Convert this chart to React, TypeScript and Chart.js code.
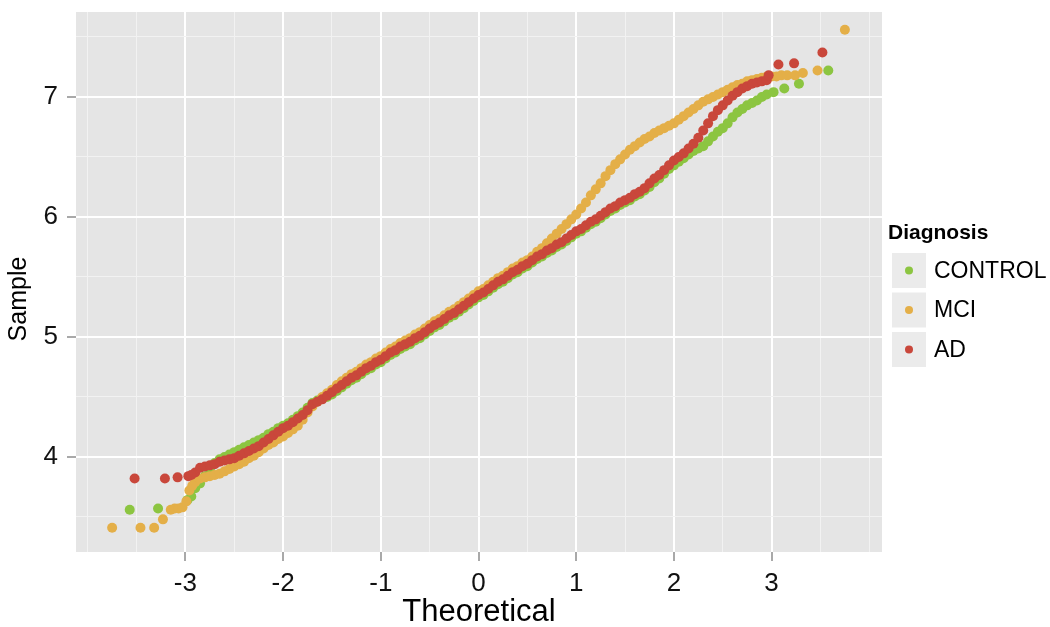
import React, { useEffect, useRef } from "react";
import { Chart, registerables } from "chart.js";

Chart.register(...registerables);

// Theoretical quantiles of the dense central part (shared by the three groups)
const theoretical = [
  -2.9, -2.85, -2.8, -2.75, -2.7, -2.65, -2.6, -2.55, -2.5, -2.45,
  -2.4, -2.35, -2.3, -2.25, -2.2, -2.15, -2.1, -2.05, -2.0, -1.95,
  -1.9, -1.85, -1.8, -1.75, -1.7, -1.65, -1.6, -1.55, -1.5, -1.45,
  -1.4, -1.35, -1.3, -1.25, -1.2, -1.15, -1.1, -1.05, -1.0, -0.95,
  -0.9, -0.85, -0.8, -0.75, -0.7, -0.65, -0.6, -0.55, -0.5, -0.45,
  -0.4, -0.35, -0.3, -0.25, -0.2, -0.15, -0.1, -0.05, 0.0, 0.05,
  0.1, 0.15, 0.2, 0.25, 0.3, 0.35, 0.4, 0.45, 0.5, 0.55,
  0.6, 0.65, 0.7, 0.75, 0.8, 0.85, 0.9, 0.95, 1.0, 1.05,
  1.1, 1.15, 1.2, 1.25, 1.3, 1.35, 1.4, 1.45, 1.5, 1.55,
  1.6, 1.65, 1.7, 1.75, 1.8, 1.85, 1.9, 1.95, 2.0, 2.05,
  2.1, 2.15, 2.2, 2.25, 2.3, 2.35, 2.4, 2.45, 2.5, 2.55,
  2.6, 2.65, 2.7, 2.75, 2.8, 2.85, 2.9,
];

const controlSample = [
  3.74, 3.78, 3.84, 3.9, 3.95, 3.98, 4.0, 4.02, 4.04, 4.06,
  4.08, 4.1, 4.12, 4.14, 4.16, 4.19, 4.21, 4.24, 4.26, 4.28,
  4.31, 4.34, 4.37, 4.41, 4.45, 4.47, 4.49, 4.5, 4.52, 4.55,
  4.58, 4.61, 4.64, 4.66, 4.69, 4.72, 4.74, 4.77, 4.79, 4.82,
  4.85, 4.87, 4.9, 4.92, 4.94, 4.97, 4.99, 5.02, 5.05, 5.08,
  5.1, 5.13, 5.16, 5.18, 5.21, 5.24, 5.27, 5.3, 5.33, 5.35,
  5.38, 5.41, 5.44, 5.46, 5.49, 5.52, 5.54, 5.57, 5.59, 5.62,
  5.65, 5.67, 5.7, 5.72, 5.75, 5.77, 5.8, 5.83, 5.86, 5.88,
  5.91, 5.94, 5.96, 5.99, 6.02, 6.05, 6.07, 6.1, 6.12, 6.14,
  6.17, 6.19, 6.22, 6.25, 6.29, 6.32, 6.36, 6.4, 6.43, 6.46,
  6.49, 6.52, 6.55, 6.57, 6.59, 6.63, 6.67, 6.71, 6.74, 6.78,
  6.83, 6.87, 6.9, 6.93, 6.95, 6.97, 7.0,
];

const mciSample = [
  3.79, 3.82, 3.83, 3.84, 3.85, 3.86, 3.88, 3.9, 3.92, 3.94,
  3.96, 3.99, 4.01, 4.04, 4.07, 4.1, 4.12, 4.15, 4.17, 4.2,
  4.23, 4.26, 4.31, 4.37, 4.42, 4.46, 4.5, 4.53, 4.56, 4.6,
  4.63, 4.66, 4.69, 4.71, 4.74, 4.77, 4.79, 4.82, 4.84, 4.87,
  4.9, 4.92, 4.95, 4.97, 4.99, 5.02, 5.04, 5.07, 5.1, 5.13,
  5.15, 5.18, 5.21, 5.23, 5.26, 5.29, 5.32, 5.35, 5.38, 5.4,
  5.43, 5.46, 5.49, 5.51, 5.54, 5.57, 5.59, 5.62, 5.64, 5.67,
  5.71, 5.74, 5.78, 5.82, 5.86, 5.9, 5.94, 5.98, 6.02, 6.07,
  6.12, 6.18, 6.23, 6.28, 6.34, 6.39, 6.44, 6.48, 6.52, 6.56,
  6.59, 6.62, 6.65, 6.67, 6.7, 6.72, 6.74, 6.76, 6.78, 6.81,
  6.84, 6.87, 6.9, 6.93, 6.96, 6.98, 7.0, 7.02, 7.04, 7.06,
  7.08, 7.1, 7.11, 7.13, 7.14, 7.15, 7.16,
];

const adSample = [
  3.87, 3.91, 3.92, 3.93, 3.94, 3.96, 3.97, 3.98, 3.99, 4.01,
  4.03, 4.05, 4.07, 4.09, 4.12, 4.15, 4.18, 4.21, 4.24, 4.26,
  4.29, 4.32, 4.35, 4.39, 4.44, 4.46, 4.48, 4.51, 4.54, 4.57,
  4.6, 4.63, 4.66, 4.68, 4.71, 4.74, 4.76, 4.79, 4.81, 4.84,
  4.87, 4.89, 4.92, 4.94, 4.96, 4.99, 5.01, 5.04, 5.07, 5.1,
  5.12, 5.15, 5.18, 5.2, 5.23, 5.26, 5.29, 5.32, 5.35, 5.37,
  5.4, 5.43, 5.46, 5.48, 5.51, 5.54, 5.56, 5.59, 5.61, 5.64,
  5.67, 5.69, 5.72, 5.74, 5.77, 5.79, 5.82, 5.85, 5.88, 5.9,
  5.93, 5.96, 5.98, 6.01, 6.04, 6.07, 6.09, 6.12, 6.14, 6.16,
  6.19, 6.21, 6.24, 6.28, 6.32, 6.35, 6.39, 6.43, 6.47, 6.5,
  6.53, 6.57, 6.61, 6.66, 6.72, 6.78, 6.84, 6.89, 6.93, 6.97,
  7.01, 7.04, 7.07, 7.09, 7.11, 7.12, 7.13,
];

// Tail points (sparse extremes) for each group
const controlTailTheo = [-3.57, -3.28, -2.98, -2.94, 2.95, 3.02, 3.13, 3.28, 3.58];
const controlTailSample = [3.56, 3.57, 3.64, 3.67, 7.02, 7.04, 7.07, 7.11, 7.22];

const mciTailTheo = [-3.75, -3.46, -3.32, -3.23, -3.15, -3.11, -3.07, -3.03, -2.99, -2.96, -2.93,
  2.95, 3.0, 3.05, 3.1, 3.16, 3.24, 3.32, 3.47, 3.75];
const mciTailSample = [3.41, 3.41, 3.41, 3.48, 3.56, 3.57, 3.57, 3.58, 3.63, 3.72, 3.76,
  7.17, 7.17, 7.17, 7.18, 7.18, 7.18, 7.2, 7.22, 7.56];

const adTailTheo = [-3.52, -3.21, -3.08, -2.97, -2.94, 2.95, 2.97, 3.07, 3.23, 3.52];
const adTailSample = [3.82, 3.82, 3.83, 3.84, 3.85, 7.14, 7.18, 7.27, 7.28, 7.37];

const groups = ["CONTROL", "MCI", "AD"];
const groupColors = ["#8CC541", "#E4AF48", "#C9473B"];

const xMajor = [-3, -2, -1, 0, 1, 2, 3];
const xMinor = [-4, -3.5, -2.5, -1.5, -0.5, 0.5, 1.5, 2.5, 3.5, 4];
const yMajor = [4, 5, 6, 7];
const yMinor = [3.5, 4.5, 5.5, 6.5, 7.5];

const xTitle = "Theoretical";
const yTitle = "Sample";
const legendTitle = "Diagnosis";

const FONT = "'Liberation Sans', Arial, Helvetica, sans-serif";

function toPoints(tx: number[], ty: number[], gx: number[], gy: number[]) {
  const pts: { x: number; y: number }[] = [];
  for (let i = 0; i < gx.length; i++) pts.push({ x: gx[i], y: gy[i] });
  for (let i = 0; i < tx.length; i++) pts.push({ x: tx[i], y: ty[i] });
  return pts;
}

const panelPlugin = {
  id: "panelBg",
  beforeDraw(chart: any) {
    const { ctx, chartArea } = chart;
    ctx.save();
    ctx.fillStyle = "#E5E5E5";
    ctx.fillRect(chartArea.left, chartArea.top, chartArea.right - chartArea.left, chartArea.bottom - chartArea.top);
    ctx.restore();
  },
};

const titlesPlugin = {
  id: "axisTitles",
  afterDraw(chart: any) {
    const { ctx, chartArea } = chart;
    ctx.save();
    ctx.fillStyle = "#000";
    ctx.font = `31px ${FONT}`;
    ctx.textAlign = "center";
    ctx.textBaseline = "alphabetic";
    ctx.fillText(xTitle, (chartArea.left + chartArea.right) / 2, 621);
    ctx.translate(26, (chartArea.top + chartArea.bottom) / 2 + 17);
    ctx.rotate(-Math.PI / 2);
    ctx.font = `25px ${FONT}`;
    ctx.fillText(yTitle, 0, 0);
    ctx.restore();
  },
};

const legendPlugin = {
  id: "ggLegend",
  afterDraw(chart: any) {
    const { ctx, chartArea } = chart;
    const x0 = chartArea.right + 6;
    ctx.save();
    ctx.fillStyle = "#000";
    ctx.textBaseline = "middle";
    ctx.textAlign = "left";
    ctx.font = `bold 21px ${FONT}`;
    ctx.fillText(legendTitle, x0, 233);
    const ds = chart.data.datasets;
    const boxX = x0 + 4;
    const boxW = 34;
    const boxH = 35;
    for (let i = 0; i < ds.length; i++) {
      const top = 253 + i * 39.5;
      ctx.fillStyle = "#EBEBEB";
      ctx.fillRect(boxX, top, boxW, boxH);
      ctx.beginPath();
      ctx.arc(boxX + boxW / 2, top + boxH / 2, 4, 0, Math.PI * 2);
      ctx.fillStyle = ds[i].backgroundColor;
      ctx.fill();
      ctx.fillStyle = "#000";
      ctx.font = `23px ${FONT}`;
      ctx.fillText(ds[i].label, boxX + boxW + 8, top + boxH / 2 + 1);
    }
    ctx.restore();
  },
};

export default function App() {
  const ref = useRef<HTMLCanvasElement | null>(null);

  useEffect(() => {
    if (!ref.current) return;
    const sets = [
      toPoints(controlTailTheo, controlTailSample, theoretical, controlSample),
      toPoints(mciTailTheo, mciTailSample, theoretical, mciSample),
      toPoints(adTailTheo, adTailSample, theoretical, adSample),
    ];
    const isMajorX = (v: number) => xMajor.includes(v);
    const isMajorY = (v: number) => yMajor.includes(v);
    const chart = new Chart(ref.current, {
      type: "scatter",
      data: {
        datasets: groups.map((g, i) => ({
          label: g,
          data: sets[i],
          backgroundColor: groupColors[i],
          borderWidth: 0,
          pointRadius: 5,
          pointHoverRadius: 5,
          order: 3 - i,
        })),
      },
      options: {
        animation: false,
        responsive: false,
        maintainAspectRatio: false,
        events: [],
        layout: { padding: { top: 12, right: 168, left: 0, bottom: 0 } },
        plugins: { legend: { display: false }, tooltip: { enabled: false } },
        scales: {
          x: {
            type: "linear",
            min: -4.12,
            max: 4.13,
            afterBuildTicks: (s: any) => {
              s.ticks = [...xMinor, ...xMajor].sort((a, b) => a - b).map((v) => ({ value: v }));
            },
            afterFit: (s: any) => {
              s.height = 75;
              s.paddingLeft = 0;
              s.paddingRight = 0;
            },
            border: { display: false },
            grid: {
              color: (c: any) => (isMajorX(c.tick.value) ? "#FFFFFF" : "#F2F2F2"),
              lineWidth: (c: any) => (isMajorX(c.tick.value) ? 2 : 1),
              tickLength: 9,
              tickWidth: 1.5,
              tickColor: (c: any) => (isMajorX(c.tick.value) ? "#8C8C8C" : "rgba(0,0,0,0)"),
            },
            ticks: {
              autoSkip: false,
              maxRotation: 0,
              padding: 7,
              color: "#111",
              font: { family: FONT, size: 26 },
              callback: (v: any) => (isMajorX(Number(v)) ? String(v) : ""),
            },
            title: { display: false },
          },
          y: {
            type: "linear",
            min: 3.208,
            max: 7.708,
            afterBuildTicks: (s: any) => {
              s.ticks = [...yMinor, ...yMajor].sort((a, b) => a - b).map((v) => ({ value: v }));
            },
            afterFit: (s: any) => {
              s.width = 76;
              s.paddingTop = 0;
              s.paddingBottom = 0;
            },
            border: { display: false },
            grid: {
              color: (c: any) => (isMajorY(c.tick.value) ? "#FFFFFF" : "#F2F2F2"),
              lineWidth: (c: any) => (isMajorY(c.tick.value) ? 2 : 1),
              tickLength: 9,
              tickWidth: 1.5,
              tickColor: (c: any) => (isMajorY(c.tick.value) ? "#8C8C8C" : "rgba(0,0,0,0)"),
            },
            ticks: {
              autoSkip: false,
              padding: 9,
              color: "#111",
              font: { family: FONT, size: 26 },
              callback: (v: any) => (isMajorY(Number(v)) ? String(v) : ""),
            },
            title: { display: false },
          },
        },
      },
      plugins: [panelPlugin, titlesPlugin, legendPlugin],
    });
    return () => chart.destroy();
  }, []);

  return (
    <div style={{ position: "absolute", left: 0, top: 0, width: 1050, height: 627, background: "#fff" }}>
      <canvas ref={ref} width={1050} height={627} style={{ display: "block", width: 1050, height: 627 }} />
    </div>
  );
}
